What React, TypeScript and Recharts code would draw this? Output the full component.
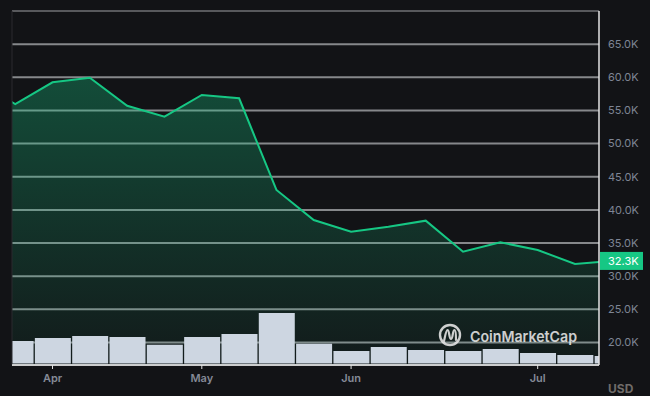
import {
  Area,
  Bar,
  CartesianGrid,
  ComposedChart,
  ReferenceLine,
  XAxis,
  YAxis,
} from "recharts";

// weekly points; index 0 sits at the left edge, the last one runs off the right edge
const weekIndex = [-1, 0, 1, 2, 3, 4, 5, 6, 7, 8, 9, 10, 11, 12, 13, 14, 15, 16];
const prices = [
  59100, 55970, 59240, 59940, 55710, 54060, 57330, 56830, 43000, 38470, 36710,
  37460, 38370, 33680, 35110, 33950, 31830, 32300,
];
// volume, billions USD
const volumes = [
  null, 225, 255, 275, 265, 188, 265, 295, 505, 198, 125, 165, 135, 125, 145,
  105, 85, 75,
];
const priceTicks = [20000, 25000, 30000, 35000, 40000, 45000, 50000, 55000, 60000, 65000];
const monthTicks = [1, 5, 9, 14];
const monthLabels = ["Apr", "May", "Jun", "Jul"];

const data = weekIndex.map((i, k) => ({
  i,
  price: prices[k],
  volume: volumes[k],
}));

const lastPrice = prices[prices.length - 1];
const font = "Inter, 'Noto Sans', sans-serif";
const green = "#16c784";
const bg = "#121316";

const fmtK = (v: number) => `${(v / 1000).toFixed(1)}K`;

function PriceTag(props: any) {
  const vb = props.viewBox || {};
  const x = (vb.x ?? 0) + (vb.width ?? 0);
  const y = vb.y ?? 0;
  return (
    <g>
      <rect x={x + 1} y={y - 9} width={43} height={18} fill={green} />
      <text
        x={x + 9}
        y={y}
        dy="0.355em"
        fill="#ffffff"
        fontSize={11}
        fontFamily={font}
      >
        {fmtK(lastPrice)}
      </text>
    </g>
  );
}

export default function App() {
  return (
    <div
      style={{
        position: "absolute",
        left: 0,
        top: 0,
        width: 650,
        height: 396,
        background: bg,
        overflow: "hidden",
      }}
    >
      <ComposedChart
        width={650}
        height={396}
        data={data}
        margin={{ top: 11, right: 0, bottom: 0, left: 12 }}
      >
        <defs>
          <linearGradient id="priceFill" x1="0" y1="0" x2="0" y2="1">
            <stop offset="0%" stopColor={green} stopOpacity={0.32} />
            <stop offset="100%" stopColor={green} stopOpacity={0.04} />
          </linearGradient>
        </defs>
        <CartesianGrid
          yAxisId="price"
          vertical={false}
          stroke="#86888b"
          strokeWidth={2}
        />
        <XAxis
          dataKey="i"
          type="number"
          domain={[-0.086, 15.643]}
          allowDataOverflow
          ticks={monthTicks}
          interval={0}
          tickFormatter={(v) => monthLabels[monthTicks.indexOf(v)] ?? ""}
          height={31}
          tickSize={4}
          tickMargin={5}
          axisLine={{ stroke: "#e4e4e4", strokeWidth: 1.5 }}
          tickLine={{ stroke: "#e4e4e4" }}
          tick={{ fill: "#858a96", fontSize: 11, fontWeight: 600, fontFamily: font }}
        />
        <YAxis
          yAxisId="price"
          orientation="right"
          width={51}
          domain={[16600, 70000]}
          allowDataOverflow
          ticks={priceTicks}
          interval={0}
          tickFormatter={fmtK}
          tickSize={0}
          tickMargin={9}
          tickLine={false}
          axisLine={{ stroke: "#e4e4e4", strokeWidth: 1.5 }}
          tick={{ fill: "#7e8594", fontSize: 11, fontFamily: font }}
        />
        <YAxis yAxisId="vol" hide domain={[-15, 3525]} />
        <ReferenceLine yAxisId="price" x={-0.086} stroke="#2a2b2f" />
        <ReferenceLine yAxisId="price" y={70000} stroke="#2a2b2f" />
        <Area
          yAxisId="price"
          type="linear"
          dataKey="price"
          stroke={green}
          strokeWidth={2}
          fill="url(#priceFill)"
          fillOpacity={1}
          dot={false}
          activeDot={false}
          isAnimationActive={false}
        />
        <Bar
          yAxisId="vol"
          dataKey="volume"
          fill="#cdd6e1"
          barSize={36}
          isAnimationActive={false}
        />
        <ReferenceLine
          yAxisId="price"
          y={lastPrice}
          stroke="none"
          label={<PriceTag />}
        />
      </ComposedChart>
      <svg
        width={650}
        height={396}
        style={{ position: "absolute", left: 0, top: 0, pointerEvents: "none" }}
      >
        <g opacity={0.88}>
          <circle cx={450} cy={335} r={10} fill="none" stroke="#e8e8e8" strokeWidth={2.4} />
          <path
            d="M444 341 C445 337 446 330 447.5 330 C449.5 330 449 339 451 339 C453 339 452.5 330 454.5 330 C456 330 456 336 456 340"
            fill="none"
            stroke="#e8e8e8"
            strokeWidth={2.2}
            strokeLinecap="round"
          />
          <text
            x={470}
            y={341.5}
            fill="#e8e8e8"
            fontSize={15}
            fontWeight={600}
            fontFamily={font}
            textLength={107}
            lengthAdjust="spacingAndGlyphs"
          >
            CoinMarketCap
          </text>
        </g>
        <text x={608} y={393} fill="#6f6c69" fontSize={12} fontWeight={700} fontFamily={font}>
          USD
        </text>
      </svg>
    </div>
  );
}
